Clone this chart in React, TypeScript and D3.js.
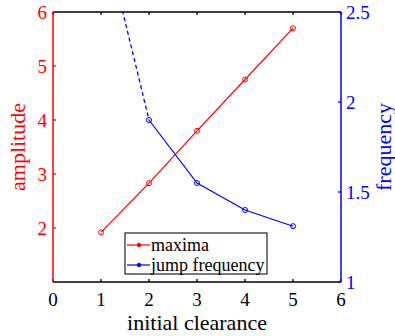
import React from "react";
import * as d3 from "d3";

const xs = [1, 2, 3, 4, 5];
const maxima = [1.92, 2.83, 3.8, 4.75, 5.7];
const jumpFreq = [1.9, 1.55, 1.4, 1.31];
const jumpX = [2, 3, 4, 5];
const dashedX = [1, 2];
const dashedY = [3.0, 1.9];
const xTicks = [0, 1, 2, 3, 4, 5, 6];
const leftTicks = [2, 3, 4, 5, 6];
const rightTicks = [1, 1.5, 2, 2.5];

const W = 395, H = 336;
const L = 53, R = 341, T = 12, B = 282;
const FONT = "'Liberation Serif', 'Times New Roman', serif";

export default function App() {
  const x = d3.scaleLinear().domain([0, 6]).range([L, R]);
  const yl = d3.scaleLinear().domain([1, 6]).range([B, T]);
  const yr = d3.scaleLinear().domain([1, 2.5]).range([B, T]);
  const lineL = d3.line<number>().x((_, i) => x(xs[i])).y((d) => yl(d));
  const lineR = d3.line<number>().x((_, i) => x(jumpX[i])).y((d) => yr(d));
  const lineD = d3.line<number>().x((_, i) => x(dashedX[i])).y((d) => yr(d));
  const red = "#ff0000", blue = "#0000ff";
  return (
    <svg width={W} height={H} style={{ position: "absolute", left: 0, top: 0 }}>
      <rect width={W} height={H} fill="#fff" />
      <defs>
        <clipPath id="pc"><rect x={L} y={T} width={R - L} height={B - T} /></clipPath>
      </defs>
      <line x1={L} x2={R} y1={T} y2={T} stroke="#000" strokeWidth={1.3} />
      <line x1={L} x2={R} y1={B} y2={B} stroke="#000" strokeWidth={1.3} />
      {xTicks.map((t) => (
        <g key={t}>
          <line x1={x(t)} x2={x(t)} y1={B} y2={B - 3} stroke="#000" strokeWidth={1.3} />
          <line x1={x(t)} x2={x(t)} y1={T} y2={T + 3} stroke="#000" strokeWidth={1.3} />
          <text x={x(t)} y={306} textAnchor="middle" fontFamily={FONT} fontSize={19}>{t}</text>
        </g>
      ))}
      <line x1={L} x2={L} y1={T} y2={B} stroke={red} strokeWidth={1.5} />
      {leftTicks.map((t) => (
        <g key={t}>
          <line x1={L} x2={L + 3} y1={yl(t)} y2={yl(t)} stroke={red} strokeWidth={1.3} />
          <text x={L - 6} y={yl(t)} dy="0.35em" textAnchor="end" fontFamily={FONT} fontSize={19} fill={red}>{t}</text>
        </g>
      ))}
      <line x1={R} x2={R} y1={T} y2={B} stroke={blue} strokeWidth={1.5} />
      {rightTicks.map((t) => (
        <g key={t}>
          <line x1={R} x2={R - 3} y1={yr(t)} y2={yr(t)} stroke={blue} strokeWidth={1.3} />
          <text x={R + 5} y={yr(t)} dy="0.35em" textAnchor="start" fontFamily={FONT} fontSize={19} fill={blue}>{t}</text>
        </g>
      ))}
      <g clipPath="url(#pc)">
        <path d={lineD(dashedY) || ""} fill="none" stroke={blue} strokeWidth={1.3} strokeDasharray="4,3" />
      </g>
      <path d={lineL(maxima) || ""} fill="none" stroke={red} strokeWidth={1.2} />
      {maxima.map((v, i) => (
        <circle key={i} cx={x(xs[i])} cy={yl(v)} r={2.5} fill="none" stroke={red} strokeWidth={1} />
      ))}
      <path d={lineR(jumpFreq) || ""} fill="none" stroke={blue} strokeWidth={1.2} />
      {jumpFreq.map((v, i) => (
        <circle key={i} cx={x(jumpX[i])} cy={yr(v)} r={2.5} fill="none" stroke={blue} strokeWidth={1} />
      ))}
      <g>
        <rect x={125} y={233} width={142} height={41} fill="#fff" stroke="#333" strokeWidth={1.3} />
        <line x1={127} x2={150} y1={245} y2={245} stroke={red} strokeWidth={1.2} />
        <circle cx={139} cy={245} r={1.8} fill={red} stroke={red} />
        <text x={151} y={245} dy="0.33em" fontFamily={FONT} fontSize={18}>maxima</text>
        <line x1={127} x2={150} y1={265} y2={265} stroke={blue} strokeWidth={1.2} />
        <circle cx={139} cy={265} r={1.8} fill={blue} stroke={blue} />
        <text x={151} y={265} dy="0.33em" fontFamily={FONT} fontSize={18}>jump frequency</text>
      </g>
      <text x={(L + R) / 2} y={330} textAnchor="middle" fontFamily={FONT} fontSize={22}>initial clearance</text>
      <text transform={`translate(25,${(T + B) / 2}) rotate(-90)`} textAnchor="middle" fontFamily={FONT} fontSize={22} fill={red}>amplitude</text>
      <text transform={`translate(391,${(T + B) / 2}) rotate(-90)`} textAnchor="middle" fontFamily={FONT} fontSize={22} fill={blue}>frequency</text>
    </svg>
  );
}
